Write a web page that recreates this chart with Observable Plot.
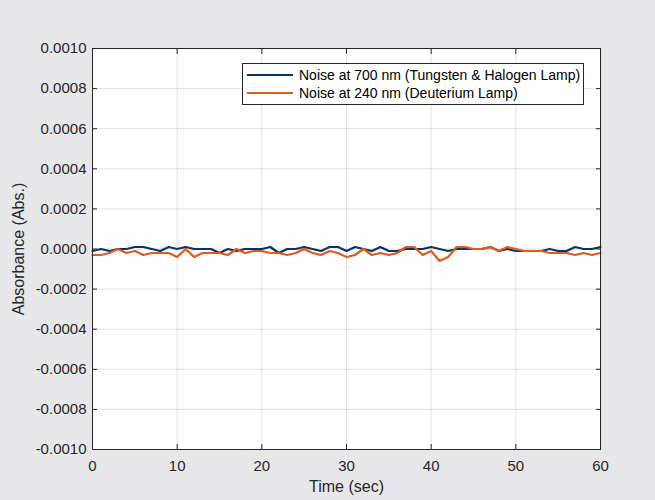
<!DOCTYPE html>
<html>
<head>
<meta charset="utf-8">
<script src="https://cdn.jsdelivr.net/npm/d3@7"></script>
<script src="https://cdn.jsdelivr.net/npm/@observablehq/plot@0.6"></script>
<style>
  html, body { margin: 0; padding: 0; background: #e7e7ea; }
  #wrap { position: relative; width: 655px; height: 500px; background: #e7e7ea; font-family: "Liberation Sans", Arial, sans-serif; }
  #legend { position: absolute; left: 242px; top: 63px; width: 342px; height: 42px; background: #fff; border: 1px solid #262626; box-sizing: border-box; font-size: 14px; color: #000; }
  .row { position: absolute; left: 4px; height: 16px; display: flex; align-items: center; white-space: nowrap; }
  .sw { width: 46px; height: 2px; margin-right: 6px; }
</style>
</head>
<body>
<div id="wrap"></div>
<script>
const time = d3.range(0, 61);
const noise700 = [
  -0.00001, 0, -0.00001, 0, 0, 0.00001, 0.00001, 0, -0.00001, 0.00001,
  0, 0.00001, 0, 0, 0, -0.00002, 0, -0.00001, 0, 0,
  0, 0.00001, -0.00002, 0, 0, 0.00001, 0, -0.00001, 0.00001, 0.00001,
  -0.00001, 0.00001, 0, -0.00001, 0.00001, -0.00001, -0.00001, 0, 0, 0,
  0.00001, 0, -0.00001, 0, 0, 0, 0, 0.00001, -0.00001, 0,
  -0.00001, -0.00001, -0.00001, -0.00001, 0, -0.00001, -0.00001, 0.00001, 0, 0, 0.00001
];
const noise240 = [
  -0.00003, -0.00003, -0.00002, 0, -0.00002, -0.00001, -0.00003, -0.00002, -0.00002, -0.00002,
  -0.00004, 0, -0.00004, -0.00002, -0.00002, -0.00002, -0.00003, 0, -0.00002, -0.00001,
  -0.00001, -0.00002, -0.00002, -0.00003, -0.00002, 0, -0.00002, -0.00003, -0.00001, -0.00002,
  -0.00004, -0.00003, 0, -0.00003, -0.00002, -0.00003, -0.00002, 0.00001, 0.00001, -0.00003,
  -0.00001, -0.00006, -0.00004, 0.00001, 0.00001, 0, 0, 0.00001, -0.00001, 0.00001,
  0, -0.00001, -0.00001, -0.00001, -0.00002, -0.00002, -0.00002, -0.00003, -0.00002, -0.00003, -0.00002
];
const seriesNames = ["Noise at 700 nm (Tungsten & Halogen Lamp)", "Noise at 240 nm (Deuterium Lamp)"];
const seriesColors = ["#0c3366", "#e05a1e"];
const xTicks = [0, 10, 20, 30, 40, 50, 60];
const yTicks = [-0.001, -0.0008, -0.0006, -0.0004, -0.0002, 0, 0.0002, 0.0004, 0.0006, 0.0008, 0.001];
const xLabel = "Time (sec)";
const yLabel = "Absorbance (Abs.)";

const rows = [];
time.forEach((t, i) => {
  rows.push({t, v: noise700[i], s: seriesNames[0]});
  rows.push({t, v: noise240[i], s: seriesNames[1]});
});

const fmt = d => (Math.abs(d) < 1e-12 ? 0 : d).toFixed(4);
const axisColor = "#262626";

const chart = Plot.plot({
  width: 655,
  height: 500,
  marginTop: 48,
  marginLeft: 92,
  marginRight: 55,
  marginBottom: 51,
  style: { background: "transparent", fontFamily: "'Liberation Sans', Arial, sans-serif", fontSize: "15px", color: axisColor },
  x: { domain: [0, 60] },
  y: { domain: [-0.001, 0.001] },
  color: { domain: seriesNames, range: seriesColors },
  marks: [
    Plot.frame({ fill: "white", stroke: null }),
    Plot.gridX(xTicks, { stroke: "#000", strokeOpacity: 0.12 }),
    Plot.gridY(yTicks, { stroke: "#000", strokeOpacity: 0.12 }),
    Plot.line(rows, { x: "t", y: "v", z: "s", stroke: "s", strokeWidth: 2.2 }),
    Plot.frame({ stroke: axisColor, strokeWidth: 1 }),
    Plot.axisX({ ticks: xTicks, tickSize: -5, tickPadding: 16, tickFormat: d => String(d), label: null, color: axisColor, fontSize: 15 }),
    Plot.axisX({ anchor: "top", ticks: xTicks, tickSize: -5, tickFormat: () => "", label: null, color: axisColor }),
    Plot.axisY({ ticks: yTicks, tickSize: -5, tickPadding: 11, tickFormat: fmt, label: null, color: axisColor, fontSize: 15 }),
    Plot.axisY({ anchor: "right", ticks: yTicks, tickSize: -5, tickFormat: () => "", label: null, color: axisColor }),
    Plot.text([xLabel], { frameAnchor: "bottom", dy: 42, fontSize: 16, fill: axisColor }),
    Plot.text([yLabel], { frameAnchor: "left", rotate: -90, textAnchor: "middle", dx: -74, fontSize: 16, fill: axisColor })
  ]
});

const wrap = document.getElementById("wrap");
wrap.appendChild(chart);

const legend = document.createElement("div");
legend.id = "legend";
seriesNames.forEach((name, i) => {
  const row = document.createElement("div");
  row.className = "row";
  row.style.top = (3 + i * 18) + "px";
  const sw = document.createElement("div");
  sw.className = "sw";
  sw.style.background = seriesColors[i];
  const label = document.createElement("span");
  label.textContent = name;
  row.appendChild(sw);
  row.appendChild(label);
  legend.appendChild(row);
});
wrap.appendChild(legend);
</script>
</body>
</html>
